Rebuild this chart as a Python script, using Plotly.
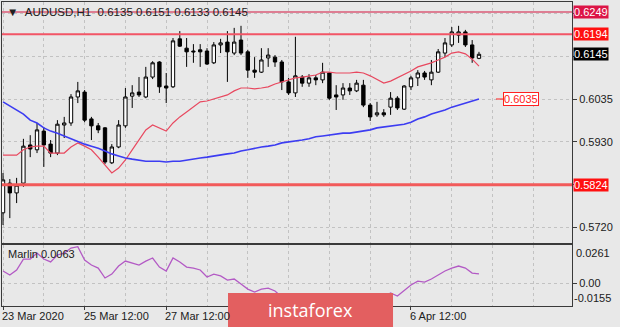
import plotly.graph_objects as go

# ---------------- data ----------------
tick_bars = [0, 12, 24, 36, 48, 60]
time_labels = ["23 Mar 2020", "25 Mar 12:00", "27 Mar 12:00", "6 Apr 12:00"]
label_bars = [0, 12, 24, 60]

opens = [0.5755, 0.5828, 0.5804, 0.5828, 0.5922, 0.5910, 0.5956, 0.5924, 0.5902, 0.5971,
         0.5976, 0.6040, 0.6052, 0.5986, 0.5969, 0.5964, 0.5878, 0.5917, 0.5969, 0.6042,
         0.6052, 0.6040, 0.6089, 0.6126, 0.6067, 0.6065, 0.6183, 0.6160, 0.6153, 0.6156,
         0.6153, 0.6124, 0.6168, 0.6175, 0.6148, 0.6180, 0.6151, 0.6106, 0.6101, 0.6136,
         0.6138, 0.6126, 0.6077, 0.6050, 0.6089, 0.6074, 0.6087, 0.6082, 0.6099, 0.6045,
         0.6045, 0.6062, 0.6055, 0.6069, 0.6020, 0.5996, 0.6001, 0.6015, 0.6037, 0.6010,
         0.6065, 0.6087, 0.6099, 0.6082, 0.6101, 0.6148, 0.6168, 0.6192, 0.6200, 0.6168,
         0.6135]
highs = [0.5853, 0.5838, 0.5841, 0.5937, 0.5946, 0.5976, 0.5966, 0.5934, 0.5983, 0.5991,
         0.6047, 0.6077, 0.6057, 0.5991, 0.5976, 0.5966, 0.5924, 0.5983, 0.6062, 0.6069,
         0.6089, 0.6114, 0.6128, 0.6128, 0.6099, 0.6185, 0.6202, 0.6185, 0.6170, 0.6170,
         0.6160, 0.6175, 0.6183, 0.6202, 0.6210, 0.6215, 0.6156, 0.6138, 0.6160, 0.6160,
         0.6143, 0.6131, 0.6087, 0.6188, 0.6094, 0.6096, 0.6094, 0.6124, 0.6101, 0.6069,
         0.6074, 0.6074, 0.6082, 0.6082, 0.6025, 0.6028, 0.6010, 0.6052, 0.6042, 0.6069,
         0.6092, 0.6106, 0.6104, 0.6131, 0.6158, 0.6185, 0.6212, 0.6215, 0.6205, 0.6180,
         0.6151]
lows = [0.5725, 0.5742, 0.5779, 0.5819, 0.5892, 0.5902, 0.5868, 0.5892, 0.5897, 0.5939,
        0.5969, 0.6025, 0.5978, 0.5934, 0.5951, 0.5875, 0.5875, 0.5914, 0.5964, 0.6013,
        0.6040, 0.6037, 0.6084, 0.6050, 0.6025, 0.6062, 0.6163, 0.6114, 0.6124, 0.6114,
        0.6119, 0.6121, 0.6148, 0.6077, 0.6143, 0.6143, 0.6087, 0.6087, 0.6099, 0.6114,
        0.6114, 0.6057, 0.6045, 0.6040, 0.6065, 0.6065, 0.6069, 0.6074, 0.6033, 0.6008,
        0.6033, 0.6045, 0.6052, 0.6015, 0.5981, 0.5991, 0.5991, 0.5996, 0.6008, 0.6008,
        0.6057, 0.6067, 0.6082, 0.6069, 0.6099, 0.6138, 0.6163, 0.6173, 0.6163, 0.6124,
        0.6133]
closes = [0.5836, 0.5804, 0.5823, 0.5919, 0.5912, 0.5959, 0.5922, 0.5902, 0.5973, 0.5976,
          0.6040, 0.6055, 0.5983, 0.5969, 0.5959, 0.5880, 0.5917, 0.5971, 0.6040, 0.6050,
          0.6045, 0.6089, 0.6124, 0.6065, 0.6062, 0.6178, 0.6165, 0.6151, 0.6151, 0.6151,
          0.6121, 0.6168, 0.6173, 0.6151, 0.6175, 0.6148, 0.6106, 0.6101, 0.6131, 0.6143,
          0.6126, 0.6077, 0.6050, 0.6092, 0.6074, 0.6087, 0.6082, 0.6101, 0.6037, 0.6040,
          0.6062, 0.6055, 0.6074, 0.6020, 0.5991, 0.6001, 0.5996, 0.6037, 0.6013, 0.6067,
          0.6087, 0.6099, 0.6089, 0.6101, 0.6151, 0.6173, 0.6200, 0.6200, 0.6168, 0.6136,
          0.6145]
ma_fast = [0.5897, 0.5897, 0.5897, 0.5910, 0.5917, 0.5919, 0.5919, 0.5902, 0.5902, 0.5902,
           0.5917, 0.5927, 0.5919, 0.5910, 0.5892, 0.5873, 0.5853, 0.5865, 0.5885, 0.5910,
           0.5934, 0.5959, 0.5971, 0.5964, 0.5956, 0.5976, 0.5991, 0.6003, 0.6015, 0.6028,
           0.6030, 0.6035, 0.6040, 0.6045, 0.6055, 0.6062, 0.6062, 0.6060, 0.6062, 0.6065,
           0.6072, 0.6077, 0.6082, 0.6087, 0.6089, 0.6092, 0.6094, 0.6101, 0.6101, 0.6099,
           0.6099, 0.6099, 0.6101, 0.6099, 0.6092, 0.6082, 0.6074, 0.6079, 0.6087, 0.6096,
           0.6104, 0.6114, 0.6119, 0.6124, 0.6131, 0.6138, 0.6148, 0.6151, 0.6146, 0.6133,
           0.6116]
ma_slow = [0.6028, 0.6018, 0.6008, 0.5998, 0.5983, 0.5976, 0.5964, 0.5956, 0.5951, 0.5944,
           0.5937, 0.5929, 0.5924, 0.5919, 0.5914, 0.5907, 0.5900, 0.5895, 0.5890, 0.5887,
           0.5885, 0.5882, 0.5882, 0.5882, 0.5880, 0.5882, 0.5882, 0.5885, 0.5887, 0.5890,
           0.5892, 0.5895, 0.5897, 0.5900, 0.5902, 0.5907, 0.5910, 0.5914, 0.5917, 0.5919,
           0.5922, 0.5927, 0.5929, 0.5932, 0.5934, 0.5937, 0.5942, 0.5944, 0.5946, 0.5949,
           0.5951, 0.5951, 0.5954, 0.5956, 0.5959, 0.5964, 0.5966, 0.5969, 0.5971, 0.5973,
           0.5978, 0.5986, 0.5991, 0.5998, 0.6003, 0.6008, 0.6015, 0.6020, 0.6025, 0.6030,
           0.6035]
marlin = [0.0083, 0.0055, 0.0090, 0.0165, 0.0165, 0.0206, 0.0165, 0.0145, 0.0193, 0.0206,
          0.0240, 0.0250, 0.0158, 0.0124, 0.0103, 0.0035, 0.0062, 0.0117, 0.0151, 0.0138,
          0.0124, 0.0151, 0.0172, 0.0110, 0.0083, 0.0172, 0.0145, 0.0110, 0.0103, 0.0090,
          0.0042, 0.0062, 0.0049, 0.0021, 0.0028, -0.0006, -0.0041, -0.0061, -0.0041, -0.0034,
          -0.0054, -0.0095, -0.0130, -0.0155, -0.0143, -0.0130, -0.0109, -0.0089, -0.0109, -0.0137,
          -0.0123, -0.0095, -0.0082, -0.0109, -0.0143, -0.0123, -0.0095, -0.0068, -0.0089, -0.0054,
          -0.0013, 0.0014, 0.0007, 0.0028, 0.0055, 0.0083, 0.0103, 0.0117, 0.0103, 0.0069,
          0.0063]

levels = [0.6249, 0.6194, 0.5824]
level_line_colors = ["#d3143f", "#f25566", "#f25a5a"]
level_box_colors = ["#dc1446", "#ff1010", "#ff1010"]
level_widths = [1, 2, 3]
price_ticks = [0.5720, 0.5825, 0.5930, 0.6035, 0.6140, 0.6245]
price_tick_text = ["0.5720", "", "0.5930", "0.6035", "", ""]
marlin_max, marlin_min = 0.0261, -0.0155

# ---------------- figure ----------------
n = len(closes)
bars = list(range(n))
FONT = "Liberation Sans"
BG = "#e8e8e8"
AX = "#3a3a3a"
GRID = "#c2c2c2"

fig = go.Figure()
fig.add_trace(go.Candlestick(
    x=bars, open=opens, high=highs, low=lows, close=closes,
    increasing=dict(line=dict(color="black", width=1), fillcolor="white"),
    decreasing=dict(line=dict(color="black", width=1), fillcolor="black"),
    whiskerwidth=0, hoverinfo="skip", xaxis="x", yaxis="y"))
fig.add_trace(go.Scatter(x=bars, y=ma_fast, mode="lines",
                         line=dict(color="#e8485f", width=1.2), hoverinfo="skip"))
fig.add_trace(go.Scatter(x=bars, y=ma_slow, mode="lines",
                         line=dict(color="#3c3cf2", width=1.6), hoverinfo="skip"))
fig.add_trace(go.Scatter(x=bars, y=marlin, mode="lines", xaxis="x2", yaxis="y2",
                         line=dict(color="#b35ac5", width=1.3), hoverinfo="skip"))

shapes = []
annotations = []

# horizontal levels + right-side boxes
for lv, lc, bc, w in zip(levels, level_line_colors, level_box_colors, level_widths):
    shapes.append(dict(type="line", xref="x domain", yref="y", x0=0, x1=1, y0=lv, y1=lv,
                       line=dict(color=lc, width=w), layer="above"))
    annotations.append(dict(xref="paper", yref="y", x=1, y=lv, xanchor="left", yanchor="middle",
                            xshift=1, text=f"{lv:.4f}", showarrow=False, bgcolor=bc,
                            borderpad=0, font=dict(family=FONT, size=11, color="white")))
# current price box
annotations.append(dict(xref="paper", yref="y", x=1, y=closes[-1], xanchor="left", yanchor="middle",
                        xshift=1, text=f"{closes[-1]:.4f}", showarrow=False, bgcolor="black",
                        borderpad=0, font=dict(family=FONT, size=11, color="white")))
# slow MA label
shapes.append(dict(type="line", xref="x", yref="y", x0=n + 1.5, x1=n + 2.6,
                   y0=ma_slow[-1], y1=ma_slow[-1], line=dict(color="#ff2020", width=1)))
annotations.append(dict(xref="x", yref="y", x=n + 2.6, y=ma_slow[-1], xanchor="left", yanchor="middle",
                        text=f"{ma_slow[-1]:.4f}", showarrow=False, bgcolor="white",
                        bordercolor="#ff2020", borderwidth=1, borderpad=0,
                        font=dict(family=FONT, size=11, color="#ff2020")))
# header
annotations.append(dict(xref="paper", yref="paper", x=0, y=1, xanchor="left", yanchor="middle",
                        xshift=3, yshift=-10, showarrow=False,
                        text="\u25bc\u00a0\u00a0AUDUSD,H1\u00a0\u00a0%.4f %.4f %.4f %.4f" % (opens[-1], highs[-1], lows[-1], closes[-1]),
                        font=dict(family=FONT, size=11.5, color="#202020")))
# indicator label
annotations.append(dict(xref="paper", yref="y2 domain", x=0, y=1, xanchor="left", yanchor="middle",
                        xshift=4, yshift=-9, showarrow=False, text="Marlin %.4f" % marlin[-1],
                        font=dict(family=FONT, size=11, color="#202020")))
annotations.append(dict(xref="paper", yref="y2 domain", x=1, y=1, xanchor="left", yanchor="top",
                        xshift=2, showarrow=False, text=f"{marlin_max:.4f}",
                        font=dict(family=FONT, size=11, color="#202020")))
annotations.append(dict(xref="paper", yref="y2 domain", x=1, y=0, xanchor="left", yanchor="bottom",
                        xshift=0, showarrow=False, text=f"{marlin_min:.4f}",
                        font=dict(family=FONT, size=11, color="#202020")))
# time labels (the two under the logo are hidden in the original)
for b, t in zip(label_bars, time_labels):
    annotations.append(dict(xref="x2", yref="paper", x=b, y=0, xanchor="left", yanchor="top",
                            xshift=-3, yshift=-2, showarrow=False, text=t,
                            font=dict(family=FONT, size=11, color="#202020")))

# instaforex logo
shapes.append(dict(type="rect", xref="paper", yref="paper", x0=0.3965, x1=0.686, y0=-0.075, y1=0.043,
                   fillcolor="#e35f60", line=dict(width=0), layer="above"))
annotations.append(dict(xref="paper", yref="paper", x=0.541, y=-0.012, xanchor="center", yanchor="middle",
                        showarrow=False, text="instaforex",
                        font=dict(family="Open Sans", size=18, color="white")))

fig.update_layout(
    width=620, height=327, autosize=False,
    margin=dict(l=2, r=48, t=2, b=21),
    paper_bgcolor=BG, plot_bgcolor=BG,
    showlegend=False,
    shapes=shapes, annotations=annotations,
    xaxis=dict(domain=[0, 1], anchor="y", range=[-0.15, 83.68], rangeslider=dict(visible=False),
               tickmode="linear", tick0=0, dtick=6, showticklabels=False, ticks="",
               showgrid=True, gridcolor=GRID, griddash="dot", gridwidth=1, zeroline=False,
               showline=True, mirror=True, linecolor=AX, linewidth=1),
    xaxis2=dict(domain=[0, 1], anchor="y2", matches="x", range=[-0.15, 83.68],
                tickmode="array", tickvals=tick_bars, ticktext=[""] * len(tick_bars),
                ticks="outside", ticklen=3, tickcolor=AX,
                showgrid=True, gridcolor=GRID, griddash="dot", zeroline=False,
                minor=dict(tick0=0, dtick=6, showgrid=True, gridcolor=GRID, griddash="dot", ticks=""),
                showline=True, mirror=True, linecolor=AX, linewidth=1),
    yaxis=dict(domain=[0.207, 1], anchor="x", side="right", range=[0.56806, 0.62736],
               tickmode="array", tickvals=price_ticks, ticktext=price_tick_text,
               ticks="outside", ticklen=4, tickcolor=AX,
               tickfont=dict(family=FONT, size=11, color="#202020"),
               showgrid=True, gridcolor=GRID, griddash="dot", zeroline=False,
               showline=True, mirror=True, linecolor=AX, linewidth=1),
    yaxis2=dict(domain=[0, 0.2015], anchor="x2", side="right", range=[-0.0157, 0.0263],
                tickmode="array", tickvals=[0], ticktext=["0.00"],
                ticks="outside", ticklen=4, tickcolor=AX,
                tickfont=dict(family=FONT, size=11, color="#202020"),
                showgrid=True, gridcolor=GRID, griddash="dot", zeroline=False,
                showline=True, mirror=True, linecolor=AX, linewidth=1),
)

fig.write_html("out.html")
